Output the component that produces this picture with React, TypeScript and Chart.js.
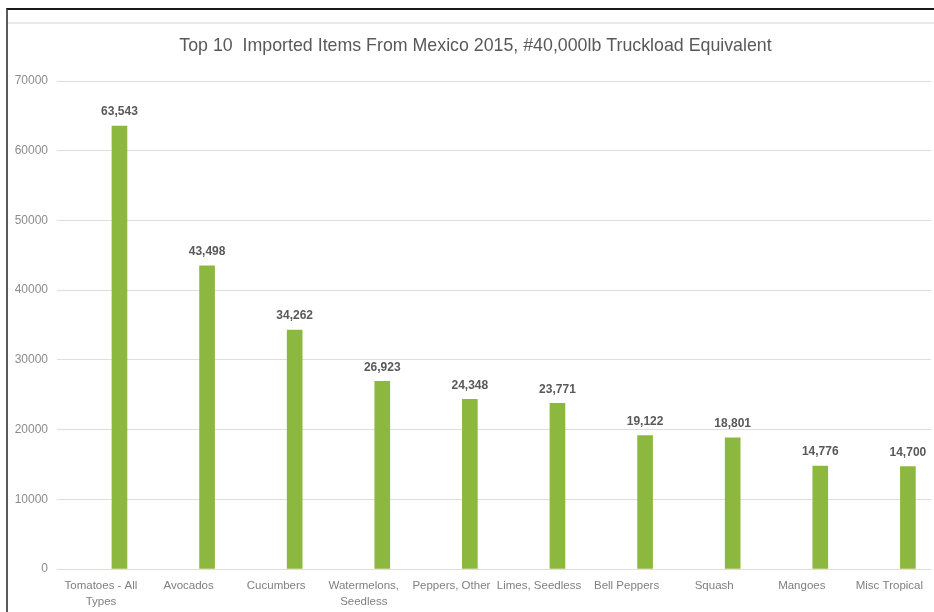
import React, { useEffect, useRef } from "react";
import { Chart, registerables } from "chart.js";

Chart.register(...registerables);

const TITLE = "Top 10  Imported Items From Mexico 2015, #40,000lb Truckload Equivalent";

const categories: (string | string[])[] = [
  ["Tomatoes - All", "Types"],
  "Avocados",
  "Cucumbers",
  ["Watermelons,", "Seedless"],
  "Peppers, Other",
  "Limes, Seedless",
  "Bell Peppers",
  "Squash",
  "Mangoes",
  "Misc Tropical",
];

const truckloads: number[] = [63543, 43498, 34262, 26923, 24348, 23771, 19122, 18801, 14776, 14700];

const yTicks: number[] = [0, 10000, 20000, 30000, 40000, 50000, 60000, 70000];

// category labels sit slightly left of their bars in the reference
const LABEL_SHIFT = -0.211;

const FONT = "'Liberation Sans', Arial, sans-serif";

const valueLabels = {
  id: "valueLabels",
  afterDatasetsDraw(chart: any) {
    const ctx = chart.ctx;
    const meta = chart.getDatasetMeta(0);
    ctx.save();
    ctx.font = `bold 12px ${FONT}`;
    ctx.fillStyle = "#595959";
    ctx.textAlign = "center";
    ctx.textBaseline = "middle";
    meta.data.forEach((bar: any, i: number) => {
      const v = chart.data.datasets[0].data[i].y as number;
      ctx.fillText(v.toLocaleString("en-US"), bar.x, bar.y - 14);
    });
    ctx.restore();
  },
};

const chartTitle = {
  id: "chartTitle",
  afterDraw(chart: any, _args: any, opts: any) {
    const ctx = chart.ctx;
    ctx.save();
    ctx.font = `17.8px ${FONT}`;
    ctx.fillStyle = "#595959";
    ctx.textAlign = "center";
    ctx.textBaseline = "middle";
    ctx.fillText(opts.text, opts.x, opts.y);
    ctx.restore();
  },
};

export default function App() {
  const ref = useRef<HTMLCanvasElement | null>(null);

  useEffect(() => {
    if (!ref.current) return;
    const chart = new Chart(ref.current, {
      type: "bar",
      data: {
        datasets: [
          {
            data: truckloads.map((v, i) => ({ x: i, y: v })),
            backgroundColor: "#8db83f",
            borderWidth: 0,
            barThickness: 15,
          },
        ],
      },
      options: {
        responsive: false,
        animation: false,
        layout: { padding: { left: 0, right: 29, top: 81, bottom: 0 } },
        plugins: {
          legend: { display: false },
          tooltip: { enabled: false },
          title: { display: false },
          chartTitle: { text: TITLE, x: 475.5, y: 46 },
        } as any,
        scales: {
          x: {
            type: "linear",
            min: -0.713,
            max: 9.264,
            offset: false,
            grid: { display: false },
            border: { display: false },
            afterBuildTicks: (scale: any) => {
              scale.ticks = categories.map((_, i) => ({ value: i + LABEL_SHIFT }));
            },
            afterFit: (scale: any) => {
              scale.height = 43;
            },
            ticks: {
              autoSkip: false,
              maxRotation: 0,
              minRotation: 0,
              padding: 1,
              color: "#7f7f7f",
              font: { family: FONT, size: 11.5, lineHeight: 1.4 },
              callback: (v: any) => categories[Math.round(Number(v) - LABEL_SHIFT)] ?? "",
            },
          },
          y: {
            min: 0,
            max: 70000,
            afterBuildTicks: (scale: any) => {
              scale.ticks = yTicks.map((v) => ({ value: v }));
            },
            afterFit: (scale: any) => {
              scale.width = 57;
            },
            grid: { color: "#e2dcdc", lineWidth: 1, drawTicks: false },
            border: { display: false },
            ticks: {
              padding: 9,
              color: "#8c8c8c",
              font: { family: FONT, size: 12 },
              callback: (v: any) => String(v),
            },
          },
        },
      },
      plugins: [valueLabels, chartTitle],
    });
    return () => chart.destroy();
  }, []);

  return (
    <div
      style={{
        position: "fixed",
        left: 0,
        top: 0,
        width: 934,
        height: 612,
        overflow: "hidden",
        background: "#ffffff",
      }}
    >
      <canvas ref={ref} width={960} height={612} style={{ position: "absolute", left: 0, top: 0 }} />
      <div
        style={{
          position: "absolute",
          left: 6,
          top: 8,
          width: 940,
          height: 620,
          borderTop: "2px solid #1a1a1a",
          borderLeft: "2px solid #5a5a5a",
          boxSizing: "border-box",
        }}
      />
      <div
        style={{
          position: "absolute",
          left: 8,
          top: 22,
          width: 930,
          height: 0,
          borderTop: "2px solid #ebe8e6",
        }}
      />
    </div>
  );
}
